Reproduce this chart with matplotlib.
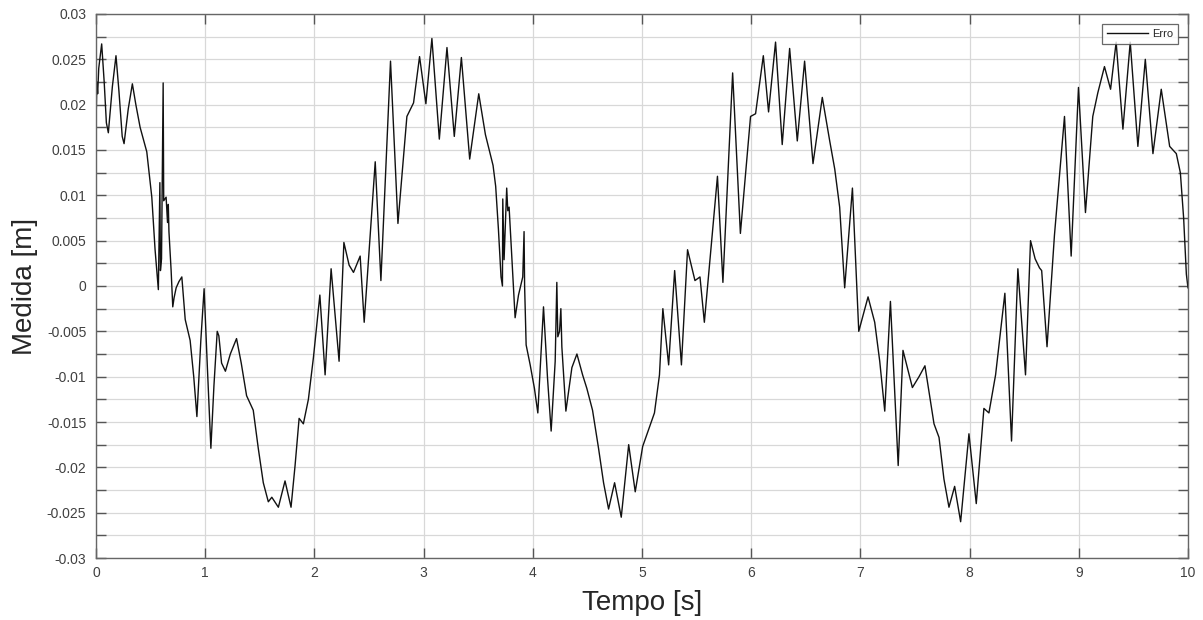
import matplotlib
matplotlib.use("Agg")
import matplotlib.pyplot as plt
from matplotlib.ticker import MultipleLocator, FuncFormatter

plt.rcParams['font.family'] = ['Liberation Sans', 'DejaVu Sans']
plt.rcParams['axes.unicode_minus'] = False

# Time samples [s] and error values [m]
tempo = [
    0.000, 0.008, 0.015, 0.025, 0.052, 0.075, 0.095, 0.113, 0.150, 0.183,
    0.210, 0.240, 0.257, 0.295, 0.333, 0.365, 0.404, 0.465, 0.511, 0.541,
    0.571, 0.585, 0.590, 0.600, 0.615, 0.620, 0.642, 0.655, 0.662, 0.668,
    0.688, 0.703, 0.715, 0.734, 0.760, 0.786, 0.817, 0.862, 0.895, 0.924,
    0.960, 0.990, 1.020, 1.052, 1.080, 1.110, 1.125, 1.150, 1.185, 1.230,
    1.287, 1.330, 1.379, 1.440, 1.486, 1.532, 1.578, 1.610, 1.670, 1.731,
    1.786, 1.823, 1.860, 1.899, 1.945, 1.991, 2.050, 2.098, 2.153, 2.226,
    2.270, 2.318, 2.358, 2.419, 2.456, 2.557, 2.609, 2.697, 2.765, 2.847,
    2.908, 2.963, 3.021, 3.076, 3.144, 3.214, 3.281, 3.346, 3.422, 3.505,
    3.566, 3.636, 3.660, 3.685, 3.709, 3.722, 3.725, 3.737, 3.761, 3.771,
    3.783, 3.807, 3.838, 3.869, 3.908, 3.920, 3.925, 3.939, 3.976, 4.015,
    4.046, 4.073, 4.098, 4.135, 4.168, 4.205, 4.220, 4.229, 4.245, 4.257,
    4.266, 4.303, 4.358, 4.404, 4.456, 4.495, 4.547, 4.602, 4.648, 4.694,
    4.749, 4.810, 4.878, 4.938, 5.006, 5.114, 5.160, 5.191, 5.244, 5.299,
    5.361, 5.417, 5.485, 5.531, 5.571, 5.691, 5.741, 5.830, 5.901, 5.994,
    6.040, 6.111, 6.159, 6.223, 6.284, 6.352, 6.422, 6.489, 6.566, 6.651,
    6.719, 6.765, 6.810, 6.856, 6.927, 6.985, 7.070, 7.131, 7.177, 7.223,
    7.275, 7.346, 7.390, 7.476, 7.537, 7.591, 7.674, 7.720, 7.765, 7.811,
    7.863, 7.918, 7.994, 8.061, 8.131, 8.177, 8.238, 8.323, 8.384, 8.442,
    8.512, 8.558, 8.600, 8.640, 8.660, 8.709, 8.777, 8.869, 8.930, 8.997,
    9.061, 9.128, 9.174, 9.235, 9.291, 9.342, 9.404, 9.471, 9.541, 9.609,
    9.679, 9.755, 9.832, 9.893, 9.930, 9.960, 9.985, 10.000,
]
erro = [
    0.0178, 0.0225, 0.0212, 0.0240, 0.0267, 0.0225, 0.0180, 0.0169, 0.0220, 0.0254,
    0.0215, 0.0165, 0.0157, 0.0195, 0.0223, 0.0200, 0.0175, 0.0148, 0.0098, 0.0040,
    -0.0004, 0.0114, 0.0017, 0.0030, 0.0224, 0.0094, 0.0098, 0.0070, 0.0090, 0.0060,
    0.0017, -0.0023, -0.0013, -0.0002, 0.0005, 0.0010, -0.0037, -0.0060, -0.0100, -0.0144,
    -0.0060, -0.0003, -0.0090, -0.0179, -0.0110, -0.0050, -0.0055, -0.0085, -0.0094, -0.0075,
    -0.0058, -0.0085, -0.0121, -0.0137, -0.0179, -0.0217, -0.0238, -0.0233, -0.0244, -0.0215,
    -0.0244, -0.0198, -0.0146, -0.0152, -0.0125, -0.0079, -0.0010, -0.0098, 0.0019, -0.0083,
    0.0048, 0.0023, 0.0015, 0.0033, -0.0040, 0.0137, 0.0006, 0.0248, 0.0069, 0.0187,
    0.0202, 0.0253, 0.0201, 0.0273, 0.0162, 0.0263, 0.0165, 0.0252, 0.0140, 0.0212,
    0.0167, 0.0133, 0.0110, 0.0063, 0.0010, 0.0000, 0.0096, 0.0029, 0.0108, 0.0083,
    0.0087, 0.0033, -0.0035, -0.0010, 0.0010, 0.0060, 0.0000, -0.0065, -0.0087, -0.0113,
    -0.0140, -0.0079, -0.0023, -0.0102, -0.0160, -0.0083, 0.0004, -0.0056, -0.0050, -0.0025,
    -0.0067, -0.0138, -0.0090, -0.0075, -0.0098, -0.0113, -0.0137, -0.0179, -0.0217, -0.0246,
    -0.0217, -0.0255, -0.0175, -0.0227, -0.0177, -0.0140, -0.0098, -0.0025, -0.0087, 0.0017,
    -0.0087, 0.0040, 0.0006, 0.0010, -0.0040, 0.0121, 0.0004, 0.0235, 0.0058, 0.0187,
    0.0190, 0.0254, 0.0192, 0.0269, 0.0156, 0.0262, 0.0160, 0.0248, 0.0135, 0.0208,
    0.0160, 0.0129, 0.0087, -0.0002, 0.0108, -0.0050, -0.0012, -0.0040, -0.0083, -0.0138,
    -0.0017, -0.0198, -0.0071, -0.0112, -0.0100, -0.0088, -0.0152, -0.0167, -0.0213, -0.0244,
    -0.0221, -0.0260, -0.0163, -0.0240, -0.0135, -0.0140, -0.0098, -0.0008, -0.0171, 0.0019,
    -0.0098, 0.0050, 0.0030, 0.0020, 0.0017, -0.0067, 0.0056, 0.0187, 0.0033, 0.0219,
    0.0081, 0.0187, 0.0213, 0.0242, 0.0217, 0.0269, 0.0173, 0.0269, 0.0154, 0.0250,
    0.0146, 0.0217, 0.0154, 0.0146, 0.0125, 0.0075, 0.0013, -0.0002,
]

x_ticks = list(range(0, 11))
serie_nome = "Erro"

fig = plt.figure(figsize=(12.03, 6.20), dpi=100)
ax = fig.add_axes([96 / 1203, 1 - 558 / 620, (1188 - 96) / 1203, (558 - 14) / 620])

ax.plot(tempo, erro, color='#111111', linewidth=1.0, label=serie_nome,
        solid_joinstyle='round')

ax.set_xlim(0, 10)
ax.set_ylim(-0.03, 0.03)
ax.set_xticks(x_ticks)
ax.yaxis.set_major_locator(MultipleLocator(0.005))
ax.yaxis.set_minor_locator(MultipleLocator(0.0025))
ax.yaxis.set_major_formatter(FuncFormatter(lambda v, p: ('%g' % round(v, 4)) if abs(v) > 1e-9 else '0'))

grid_col = '#d8d8d8'
ax.grid(True, which='major', axis='both', color=grid_col, linewidth=0.9)
ax.grid(True, which='minor', axis='y', color=grid_col, linewidth=0.9)
ax.set_axisbelow(True)

tick_col = '#404040'
ax.tick_params(axis='both', which='both', direction='in', top=True, right=True,
               color='#555555', labelcolor=tick_col, labelsize=10)
ax.tick_params(axis='both', which='major', length=7, width=1.0)
ax.tick_params(axis='y', which='minor', length=7, width=1.0)
ax.tick_params(axis='y', which='major', pad=7)
ax.tick_params(axis='x', which='major', pad=6)

for s in ax.spines.values():
    s.set_color('#666666')
    s.set_linewidth(1.0)

ax.set_xlabel('Tempo [s]', fontsize=20, color='#262626', labelpad=7)
ax.set_ylabel('Medida [m]', fontsize=20, color='#262626', labelpad=6)

leg = ax.legend(loc='upper right', fontsize=8, frameon=True, fancybox=False,
                handlelength=3.7, borderpad=0.45, borderaxespad=0.9,
                handletextpad=0.35)
leg.get_frame().set_edgecolor('#444444')
leg.get_frame().set_linewidth(0.9)
for txt in leg.get_texts():
    txt.set_color('#262626')

fig.savefig('out.png', dpi=100, facecolor='white')
